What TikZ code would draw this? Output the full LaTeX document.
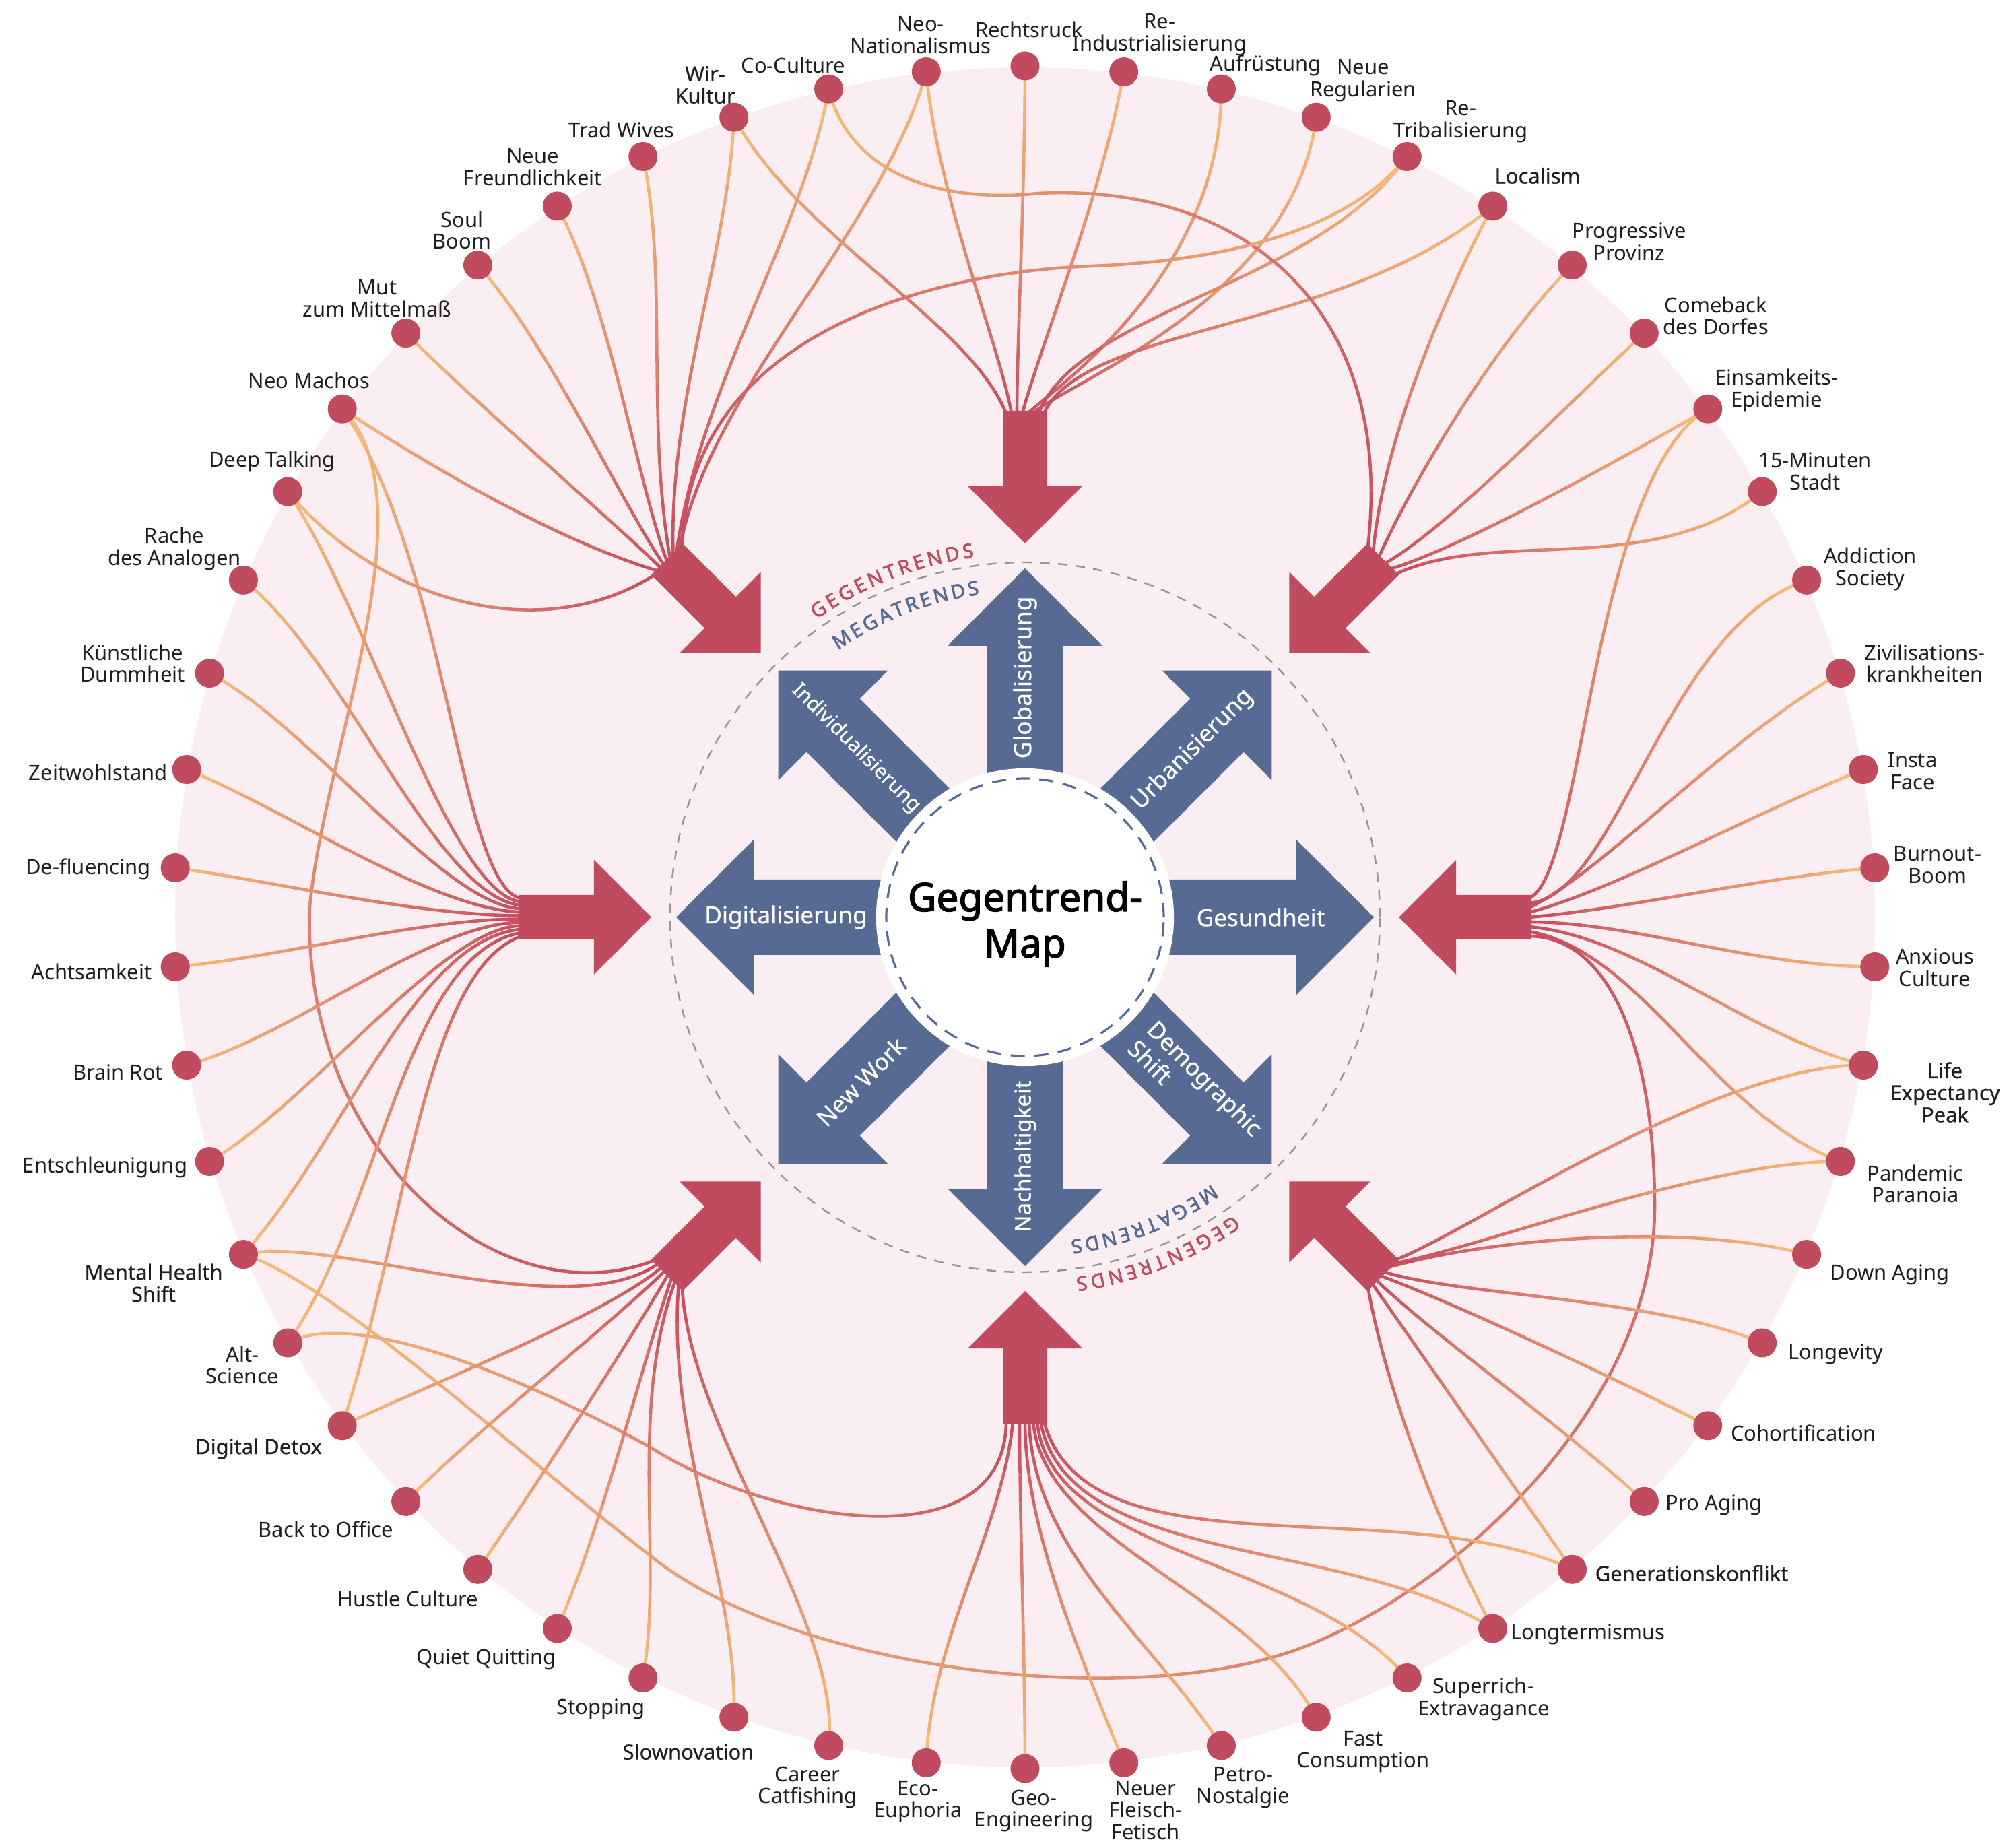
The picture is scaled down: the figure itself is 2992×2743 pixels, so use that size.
\documentclass[tikz,border=0pt]{standalone}
\usepackage{fontspec}
\setmainfont{Noto Sans}
\newfontfamily\nsbold{Noto Sans}[FakeBold=2.2]
\newfontfamily\nsmed{Noto Sans}[FakeBold=0.6]
\usetikzlibrary{decorations.text}
\definecolor{pinkbg}{RGB}{251,238,242}
\definecolor{ared}{RGB}{192,74,94}
\definecolor{ablue}{RGB}{86,106,147}
\definecolor{lorange}{RGB}{246,189,120}
\definecolor{lred}{RGB}{197,76,96}
\definecolor{txt}{RGB}{30,30,30}
\definecolor{dgray}{RGB}{150,150,150}
\newcommand\RRd{1264}
\newcommand\REd{748}
\newcommand\NSg{12}
\newcommand\gegfont{\nsbold\fontsize{8.3}{9}\selectfont}
\newcommand\gseg[2]{%
 \foreach \k in {1,...,\NSg}{%
  \pgfmathsetmacro\gTa{(\k-1)/\NSg}%
  \pgfmathsetmacro\gTb{\k/\NSg}%
  \pgfmathsetmacro\gUa{1-\gTa}%
  \pgfmathsetmacro\gUb{1-\gTb}%
  \pgfmathsetmacro\gH{1/\NSg}%
  \pgfmathsetmacro\gSx{\gUa*\gUa*\gUa*(\xA)+3*\gUa*\gUa*\gTa*(\xB)+3*\gUa*\gTa*\gTa*(\xC)+\gTa*\gTa*\gTa*(\xD)}%
  \pgfmathsetmacro\gSy{\gUa*\gUa*\gUa*(\yA)+3*\gUa*\gUa*\gTa*(\yB)+3*\gUa*\gTa*\gTa*(\yC)+\gTa*\gTa*\gTa*(\yD)}%
  \pgfmathsetmacro\gEx{\gUb*\gUb*\gUb*(\xA)+3*\gUb*\gUb*\gTb*(\xB)+3*\gUb*\gTb*\gTb*(\xC)+\gTb*\gTb*\gTb*(\xD)}%
  \pgfmathsetmacro\gEy{\gUb*\gUb*\gUb*(\yA)+3*\gUb*\gUb*\gTb*(\yB)+3*\gUb*\gTb*\gTb*(\yC)+\gTb*\gTb*\gTb*(\yD)}%
  \pgfmathsetmacro\gCax{\gSx+\gH*(\gUa*\gUa*((\xB)-(\xA))+2*\gUa*\gTa*((\xC)-(\xB))+\gTa*\gTa*((\xD)-(\xC)))}%
  \pgfmathsetmacro\gCay{\gSy+\gH*(\gUa*\gUa*((\yB)-(\yA))+2*\gUa*\gTa*((\yC)-(\yB))+\gTa*\gTa*((\yD)-(\yC)))}%
  \pgfmathsetmacro\gCbx{\gEx-\gH*(\gUb*\gUb*((\xB)-(\xA))+2*\gUb*\gTb*((\xC)-(\xB))+\gTb*\gTb*((\xD)-(\xC)))}%
  \pgfmathsetmacro\gCby{\gEy-\gH*(\gUb*\gUb*((\yB)-(\yA))+2*\gUb*\gTb*((\yC)-(\yB))+\gTb*\gTb*((\yD)-(\yC)))}%
  \pgfmathsetmacro\gM{#1+(#2-#1)*(\k-0.5)/\NSg}%
  \draw[conn,draw=lred!\gM!lorange] (\gSx,\gSy) .. controls (\gCax,\gCay) and (\gCbx,\gCby) .. (\gEx,\gEy);
 }}
% generic connector: #1 dot index, #2 arrow angle, #3 lateral offset, #4 start dir, #5 a, #6 end dir, #7 b
\newcommand\cn[7]{%
  \pgfmathsetmacro\angP{90-(#1)*20/3}%
  \pgfmathsetmacro\xA{\RRd*cos(\angP)}%
  \pgfmathsetmacro\yA{\RRd*sin(\angP)}%
  \pgfmathsetmacro\xD{\REd*cos(#2)-(#3)*sin(#2)}%
  \pgfmathsetmacro\yD{\REd*sin(#2)+(#3)*cos(#2)}%
  \pgfmathsetmacro\dd{100*sqrt((((\xD)-(\xA))/100)^2+(((\yD)-(\yA))/100)^2)}%
  \pgfmathsetmacro\xB{(\xA)+(#5)*\dd*cos(#4)}%
  \pgfmathsetmacro\yB{(\yA)+(#5)*\dd*sin(#4)}%
  \pgfmathsetmacro\xC{(\xD)+(#7)*\dd*cos(#6)}%
  \pgfmathsetmacro\yC{(\yD)+(#7)*\dd*sin(#6)}%
  \gseg{0}{100}}
% special connector starting at a dot
\newcommand\spd[7]{%
  \pgfmathsetmacro\angP{90-(#1)*20/3}%
  \pgfmathsetmacro\xA{\RRd*cos(\angP)}%
  \pgfmathsetmacro\yA{\RRd*sin(\angP)}%
  \def\xB{#2}\def\yB{#3}\def\xC{#4}\def\yC{#5}\def\xD{#6}\def\yD{#7}}
\newcommand\setP[8]{\def\xA{#1}\def\yA{#2}\def\xB{#3}\def\yB{#4}\def\xC{#5}\def\yC{#6}\def\xD{#7}\def\yD{#8}}
\begin{document}
\begin{tikzpicture}[x=0.01cm,y=0.01cm,
  conn/.style={line width=1.3pt},
  dot/.style={circle,fill=ared,inner sep=0pt,minimum size=0.43cm},
  lab/.style={font=\fontsize{8.8}{9.3}\selectfont,text=txt,align=center,inner sep=0pt},
  slab/.style={lab,font=\nsmed\fontsize{8.8}{9.3}\selectfont},
  mlab/.style={font=\nsmed\fontsize{10}{11.5}\selectfont,text=white,align=center,inner sep=0pt}]
\useasboundingbox (-1522,-1381) rectangle (1470,1362);
\fill[white] (-1522,-1381) rectangle (1470,1362);
\fill[pinkbg] (0,0) circle[radius=1262];
\draw[dgray,line width=0.7pt,dash pattern=on 4pt off 3.5pt] (0,0) circle[radius=527];
\foreach \n/\a in {N/90,NE/45,E/0,SE/-45,S/-90,SW/-135,W/180,NW/135}
  \coordinate (a\n) at (\a:\REd);
% ---------- connectors ----------
% N
\cn{51}{90}{28}{-61}{0.35}{112}{0.25}
\cn{53}{90}{20}{-85}{0.35}{100}{0.2}
\cn{0}{90}{12}{-90}{0.35}{90}{0.2}
\cn{1}{90}{4}{-100}{0.35}{75}{0.2}
\cn{2}{90}{-4}{-90}{0.5}{45}{0.08}
\cn{3}{90}{-12}{-97}{0.45}{45}{0.1}
\cn{4}{90}{-20}{-125}{0.35}{68}{0.25}
\cn{5}{90}{-28}{-140}{0.4}{65}{0.2}
% NE
\spd{52}{-260}{1100}{-120}{1060}{20}{1075}\gseg{0}{40}
\setP{20}{1075}{330}{1090}{550}{900}{509}{549}\gseg{40}{100}
\cn{5}{45}{17}{-118}{0.3}{85}{0.3}
\cn{6}{45}{6}{-135}{0.3}{66}{0.25}
\cn{7}{45}{-6}{-137}{0.3}{29}{0.2}
\cn{8}{45}{-17}{-150}{0.3}{16}{0.2}
\spd{9}{930}{500}{700}{580}{549}{509}\gseg{0}{100}
% E
\spd{8}{840}{650}{830}{60}{748}{28}\gseg{0}{100}
\spd{10}{950}{430}{880}{30}{748}{21}\gseg{0}{100}
\cn{11}{0}{14}{-150}{0.35}{25}{0.2}
\cn{12}{0}{7}{-158}{0.35}{15}{0.25}
\cn{13}{0}{0}{-175}{0.35}{5}{0.3}
\cn{14}{0}{-7}{180}{0.35}{0}{0.3}
\cn{15}{0}{-14}{165}{0.35}{-5}{0.3}
\cn{16}{0}{-21}{160}{0.35}{-10}{0.3}
\spd{37}{-1030}{-540}{-750}{-800}{-560}{-945}\gseg{0}{25}
\setP{-560}{-945}{-350}{-1120}{180}{-1185}{430}{-1077}\gseg{25}{50}
\setP{430}{-1077}{650}{-985}{935}{-720}{935}{-430}\gseg{50}{75}
\setP{935}{-430}{935}{-200}{870}{-28}{748}{-28}\gseg{75}{100}
% SE
\cn{15}{-45}{28}{180}{0.3}{20}{0.15}
\cn{16}{-45}{20}{180}{0.3}{10}{0.2}
\cn{17}{-45}{12}{165}{0.3}{16}{0.25}
\cn{18}{-45}{4}{157}{0.3}{-18}{0.2}
\cn{19}{-45}{-4}{153}{0.3}{-20}{0.2}
\cn{20}{-45}{-12}{137}{0.3}{-45}{0.2}
\cn{21}{-45}{-20}{125}{0.3}{-55}{0.2}
\cn{22}{-45}{-28}{118}{0.3}{-80}{0.3}
% S
\spd{36}{-1000}{-580}{-750}{-680}{-558}{-786}\gseg{0}{45}
\setP{-558}{-786}{-380}{-900}{-28}{-960}{-28}{-748}\gseg{45}{100}
\cn{28}{-90}{-18}{88}{0.35}{-95}{0.3}
\cn{27}{-90}{-8}{90}{0.35}{-90}{0.3}
\cn{26}{-90}{0}{112}{0.35}{-90}{0.3}
\cn{25}{-90}{6}{123}{0.35}{-88}{0.35}
\cn{24}{-90}{12}{118}{0.35}{-85}{0.3}
\cn{23}{-90}{18}{130}{0.35}{-85}{0.3}
\cn{22}{-90}{23}{148}{0.35}{-80}{0.3}
\cn{21}{-90}{28}{155}{0.35}{-75}{0.3}
% SW
\spd{46}{-880}{620}{-1040}{250}{-1062}{16}\gseg{0}{50}
\setP{-1062}{16}{-1075}{-350}{-780}{-600}{-549}{-509}\gseg{50}{100}
\spd{37}{-1030}{-470}{-680}{-610}{-544}{-514}\gseg{0}{100}
\cn{35}{-135}{-14}{25}{0.3}{221}{0.2}
\cn{34}{-135}{-7}{45}{0.3}{225}{0.2}
\cn{33}{-135}{0}{55}{0.3}{240}{0.2}
\cn{32}{-135}{7}{66}{0.3}{250}{0.2}
\cn{31}{-135}{14}{80}{0.3}{250}{0.35}
\cn{30}{-135}{21}{88}{0.3}{265}{0.35}
\spd{29}{-270}{-1050}{-500}{-760}{-509}{-549}\gseg{0}{100}
% W
\cn{46}{180}{-28}{-55}{0.35}{170}{0.12}
\cn{45}{180}{-22.9}{-56}{0.3}{175}{0.15}
\cn{44}{180}{-17.8}{-38}{0.3}{175}{0.2}
\cn{43}{180}{-12.7}{-28}{0.3}{178}{0.2}
\cn{42}{180}{-7.6}{-22}{0.3}{178}{0.25}
\cn{41}{180}{-2.5}{-8}{0.3}{180}{0.3}
\cn{40}{180}{2.5}{5}{0.3}{180}{0.3}
\cn{39}{180}{7.6}{15}{0.3}{180}{0.25}
\cn{38}{180}{12.7}{30}{0.3}{180}{0.2}
\cn{37}{180}{17.8}{48}{0.35}{185}{0.25}
\cn{36}{180}{22.9}{55}{0.35}{190}{0.25}
\cn{35}{180}{28}{72}{0.4}{200}{0.2}
% NW
\spd{45}{-960}{470}{-720}{400}{-549}{509}\gseg{0}{100}
\spd{46}{-900}{680}{-700}{560}{-544}{514}\gseg{0}{100}
\cn{47}{135}{15.6}{-45}{0.3}{135}{0.15}
\cn{48}{135}{9.3}{-48}{0.3}{125}{0.2}
\cn{49}{135}{3.1}{-62}{0.3}{110}{0.25}
\cn{50}{135}{-3.1}{-78}{0.3}{100}{0.35}
\cn{51}{135}{-9.3}{-92}{0.3}{92}{0.35}
\cn{52}{135}{-15.6}{-100}{0.3}{82}{0.35}
\cn{53}{135}{-21.8}{-105}{0.3}{80}{0.3}
\spd{4}{480}{1020}{300}{975}{100}{967}\gseg{0}{40}
\setP{100}{967}{-150}{958}{-500}{860}{-509}{549}\gseg{40}{100}
% ---------- red arrows ----------
\foreach \a in {0,45,...,315}
  \fill[ared,rotate=\a] (555,0) -- (640,85) -- (640,33) -- (752,33) -- (752,-33) -- (640,-33) -- (640,-85) -- cycle;
% ---------- dots ----------
\foreach \i in {0,...,53}
  \node[dot] (d\i) at ({90-\i*20/3}:\RRd) {};
% ---------- labels ----------
\node[lab] (t0) at (6,1318) {Rechtsruck};
\node[lab] (t1) at (200,1310) {Re-\\Industrialisierung};
\node[lab] (t2) at (357,1265) {Aufrüstung};
\node[lab] (t3) at (502,1242) {Neue\\Regularien};
\node[lab] (t4) at (647,1181) {Re-\\Tribalisierung};
\node[slab] (t5) at (761,1101) {Localism};
\node[lab] (t6) at (897,1003) {Progressive\\Provinz};
\node[lab] (t7) at (1026,893) {Comeback\\des Dorfes};
\node[lab] (t8) at (1116,782) {Einsamkeits-\\Epidemie};
\node[lab] (t9) at (1173,662) {15-Minuten\\Stadt};
\node[lab] (t10) at (1255,517) {Addiction\\Society};
\node[lab] (t11) at (1336,377) {Zivilisations-\\krankheiten};
\node[lab] (t12) at (1318,217) {Insta\\Face};
\node[lab] (t13) at (1355,78) {Burnout-\\Boom};
\node[lab] (t14) at (1351,-75) {Anxious\\Culture};
\node[slab] (t15) at (1366,-260) {Life\\Expectancy\\Peak};
\node[lab] (t16) at (1322,-396) {Pandemic\\Paranoia};
\node[lab] (t17) at (1284,-531) {Down Aging};
\node[lab] (t18) at (1204,-649) {Longevity};
\node[lab] (t19) at (1156,-766) {Cohortification};
\node[lab] (t20) at (1023,-873) {Pro Aging};
\node[slab] (t21) at (990,-974) {Generationskonflikt};
\node[lab] (t22) at (836,-1065) {Longtermismus};
\node[lab] (t23) at (681,-1161) {Superrich-\\Extravagance};
\node[lab] (t24) at (502,-1239) {Fast\\Consumption};
\node[lab] (t25) at (324,-1292) {Petro-\\Nostalgie};
\node[lab] (t26) at (179,-1326) {Neuer\\Fleisch-\\Fetisch};
\node[lab] (t27) at (13,-1327) {Geo-\\Engineering};
\node[lab] (t28) at (-159,-1313) {Eco-\\Euphoria};
\node[lab] (t29) at (-323,-1292) {Career\\Catfishing};
\node[slab] (t30) at (-500,-1239) {Slownovation};
\node[lab] (t31) at (-630,-1176) {Stopping};
\node[lab] (t32) at (-800,-1102) {Quiet Quitting};
\node[lab] (t33) at (-916,-1012) {Hustle Culture};
\node[lab] (t34) at (-1038,-909) {Back to Office};
\node[slab] (t35) at (-1138,-789) {Digital Detox};
\node[lab] (t36) at (-1162,-665) {Alt-\\Science};
\node[slab] (t37) at (-1294,-543) {Mental Health\\Shift};
\node[lab] (t38) at (-1366,-371) {Entschleunigung};
\node[lab] (t39) at (-1347,-230) {Brain Rot};
\node[lab] (t40) at (-1386,-81) {Achtsamkeit};
\node[lab] (t41) at (-1391,72) {De-fluencing};
\node[lab] (t42) at (-1376,215) {Zeitwohlstand};
\node[lab] (t43) at (-1325,377) {Künstliche\\Dummheit};
\node[lab] (t44) at (-1263,547) {Rache\\des Analogen};
\node[lab] (t45) at (-1118,677) {Deep Talking};
\node[lab] (t46) at (-1063,797) {Neo Machos};
\node[lab] (t47) at (-962,919) {Mut\\zum Mittelmaß};
\node[lab] (t48) at (-836,1020) {Soul\\Boom};
\node[lab] (t49) at (-731,1114) {Neue\\Freundlichkeit};
\node[lab] (t50) at (-599,1169) {Trad Wives};
\node[slab] (t51) at (-475,1236) {Wir-\\Kultur};
\node[lab] (t52) at (-344,1265) {Co-Culture};
\node[lab] (t53) at (-155,1310) {Neo-\\Nationalismus};
% ---------- megatrend arrows ----------
\foreach \a in {0,45,...,315}
  \fill[ablue,rotate=\a] (150,56) -- (403,56) -- (403,115) -- (518,0) -- (403,-115) -- (403,-56) -- (150,-56) -- cycle;
\node[circle,fill=white,inner sep=0pt,minimum size=4.42cm] (core) at (0,0) {};
\draw[ablue,line width=0.9pt,dash pattern=on 6pt off 4pt] (0,0) circle[radius=206];
\node[font=\nsbold\fontsize{16.6}{19.5}\selectfont,align=center,text=black] (title) at (0,-10) {Gegentrend-\\Map};
\node[mlab,rotate=90] (m1) at (0,356) {Globalisierung};
\node[mlab] (m2) at (-355,0) {Digitalisierung};
\node[mlab] (m3) at (350,0) {Gesundheit};
\node[mlab,rotate=90,font=\nsmed\fontsize{9.4}{11}\selectfont] (m4) at (0,-355) {Nachhaltigkeit};
\node[mlab,rotate=45] (m5) at (45:352) {Urbanisierung};
\node[mlab,rotate=-45,font=\nsmed\fontsize{8.6}{10}\selectfont] (m6) at (135:355) {Individualisierung};
\node[mlab,rotate=45] (m7) at (225:345) {New Work};
\node[mlab,rotate=-45,align=left] (m8) at (315:358) {Demographic\\Shift};
% ---------- curved labels ----------
\path[decorate,decoration={text along path,text={|\gegfont|GEGENTRENDS},text align=fit to path,text color=ared}]
  (125:540) arc[start angle=125,end angle=98,radius=540];
\path[decorate,decoration={text along path,text={|\gegfont|MEGATRENDS},text align=fit to path,text color=ablue}]
  (125:484) arc[start angle=125,end angle=98,radius=484];
\path[decorate,decoration={text along path,text={|\gegfont|GEGENTRENDS},text align=fit to path,text color=ared}]
  (305:540) arc[start angle=305,end angle=278,radius=540];
\path[decorate,decoration={text along path,text={|\gegfont|MEGATRENDS},text align=fit to path,text color=ablue}]
  (305:484) arc[start angle=305,end angle=278,radius=484];
\end{tikzpicture}
\end{document}
